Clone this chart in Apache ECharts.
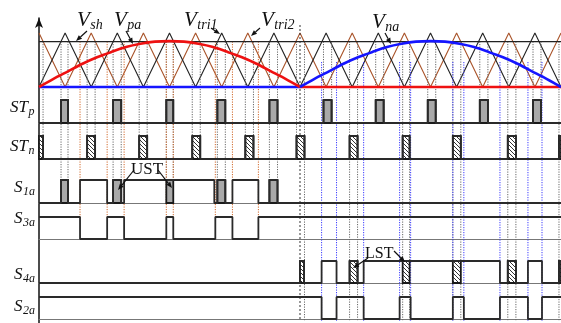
<!DOCTYPE html>
<html><head><meta charset="utf-8">
<script src="https://cdn.jsdelivr.net/npm/echarts@6/dist/echarts.min.js"></script>
<style>html,body{margin:0;padding:0;background:#fff}#c{width:561px;height:323px}</style>
</head><body><div id="c"></div>
<script>
// ---------- DATA (x = angle of the fundamental, degrees) ----------
const triX   = [0,18,36,54,72,90,108,126,144,162,180,198,216,234,252,270,288,306,324,342,360];
const tri1Y  = [0,1,0,1,0,1,0,1,0,1,0,1,0,1,0,1,0,1,0,1,0];   // V_tri1 (black)
const tri2Y  = [1,0,1,0,1,0,1,0,1,0,1,0,1,0,1,0,1,0,1,0,1];   // V_tri2 (brown)
const vshLevel = 0.84;                                          // V_sh
const vpaX = [0,10,20,30,40,50,60,70,80,90,100,110,120,130,140,150,160,170,180];
const vpaY = [0,0.15,0.29,0.43,0.55,0.65,0.74,0.80,0.84,0.85,0.84,0.80,0.74,0.65,0.55,0.43,0.29,0.15,0];
const vnaX = [180,190,200,210,220,230,240,250,260,270,280,290,300,310,320,330,340,350,360];
const vnaY = [0,0.15,0.29,0.43,0.55,0.65,0.74,0.80,0.84,0.85,0.84,0.80,0.74,0.65,0.55,0.43,0.29,0.15,0];
const vpaFlatX = [180,360], vnaFlatX = [0,180];

const stpPulses = [[15.2,20.0],[51.1,56.7],[87.8,92.6],[123.0,128.5],[158.9,164.5],
                   [196.2,201.8],[232.2,237.7],[268.1,273.6],[304.0,309.6],[340.7,346.2]];
const stnPulses = [[0,2.8],[33.2,38.7],[69.1,74.6],[105.7,111.2],[142.3,147.9],[177.6,183.1],
                   [214.2,219.7],[250.8,255.6],[285.4,290.9],[323.3,328.9],[358.6,360]];
const s1aOn = [[28.3,47.0],[58.7,120.9],[133.4,151.3]];
const s1aST = [[15.2,20.0],[51.1,56.7],[87.8,92.6],[123.0,128.5],[158.9,164.5]];
const s3aOn = [[0,28.3],[47.0,58.7],[87.8,92.6],[121.6,133.4],[151.3,360]];
const s4aOn = [[194.9,205.2],[223.9,317.9],[337.2,346.9]];
const s4aST = [[180,182.8],[214.2,219.7],[250.8,255.6],[285.4,290.9],[323.3,328.9],[358.6,360]];
const s2aOn = [[0,194.9],[205.2,223.9],[248.7,256.3],[285.4,293.0],[317.9,337.2],[346.9,360]];
const orangeGuides = [28.3,47.0,58.7,87.8,92.6,121.6,133.4,151.3];
const blueGuides   = [194.9,205.2,223.9,248.7,256.3,285.4,293.0,317.9,337.2,346.9];

// ---------- LAYOUT ----------
const H = 323;
const PL = 39;
const topPanel = {top:33, height:54};
const rowBox = [{top:100,h:23},{top:136,h:23},{top:180,h:23},{top:217,h:22},{top:261,h:22},{top:297,h:22}];
const guidePx = {vsh:41.5, stpBase:123, stnBase:159, s1aBase:203, s3aTop:217, bottom:321, blueTop:62, center:25};
const ov = px => H - px;   // overlay axis value for a pixel row

// ---------- HELPERS ----------
function merge(list){
  const s = list.map(a=>a.slice()).sort((a,b)=>a[0]-b[0]); const out=[];
  s.forEach(iv=>{ if(out.length && iv[0] <= out[out.length-1][1]+1e-9) out[out.length-1][1]=Math.max(out[out.length-1][1],iv[1]); else out.push(iv); });
  return out;
}
function stepData(list){
  const m = merge(list), pts=[];
  if(!m.length || m[0][0] > 0) pts.push([0,0]);
  m.forEach(([a,b])=>{ if(a>0) pts.push([a,0]); pts.push([a,1],[b,1]); if(b<360) pts.push([b,0]); });
  if(!m.length || m[m.length-1][1] < 360) pts.push([360,0]);
  return pts;
}
const zip = (xs,ys)=>xs.map((x,i)=>[x,ys[i]]);

// hatch pattern
const hc = document.createElement('canvas'); hc.width=4; hc.height=4;
(function(){const g=hc.getContext('2d'); g.fillStyle='#fff'; g.fillRect(0,0,4,4); g.strokeStyle='#333'; g.lineWidth=1;
 g.beginPath(); g.moveTo(-1,-1); g.lineTo(5,5); g.moveTo(-1,3); g.lineTo(1,5); g.moveTo(3,-1); g.lineTo(5,1); g.stroke();})();
const hatch = {image: hc, repeat: 'repeat'};

const grids=[], xAxes=[], yAxes=[], series=[];
function addGrid(top,height,baseline){
  grids.push({left:PL,right:0,top,height});
  const i = grids.length-1;
  xAxes.push({type:'value',gridIndex:i,min:0,max:360,show:!!baseline,
    axisLine:{show:!!baseline,onZero:true,lineStyle:{color:'#777',width:1}},axisTick:{show:false},axisLabel:{show:false},splitLine:{show:false}});
  yAxes.push({type:'value',gridIndex:i,min:0,max:1,show:false});
  return i;
}

// top panel
const g0 = addGrid(topPanel.top, topPanel.height, false);
const lineS = (gi,data,color,width,z,smooth)=>({type:'line',xAxisIndex:gi,yAxisIndex:gi,data,symbol:'none',smooth:smooth||false,clip:false,z,
  lineStyle:{color,width},silent:true});
series.push(lineS(g0, zip(triX,tri2Y), '#a9542a', 1.1, 2));
series.push(lineS(g0, zip(triX,tri1Y), '#222', 1.1, 2));
series.push(lineS(g0, [[0,vshLevel],[360,vshLevel]], '#222', 1.4, 3));
series.push(lineS(g0, vnaFlatX.map(x=>[x,0]), '#1515ff', 2.6, 5));
series.push(lineS(g0, vpaFlatX.map(x=>[x,0]), '#ee1111', 2.6, 5));
series.push(lineS(g0, zip(vpaX,vpaY), '#ee1111', 2.6, 6, 0.3));
series.push(lineS(g0, zip(vnaX,vnaY), '#1515ff', 2.6, 6, 0.3));

// rows
function pulses(gi,list,fill){
  return {type:'custom',xAxisIndex:gi,yAxisIndex:gi,data:list,z:4,silent:true,
    renderItem:(p,api)=>{const a=api.coord([api.value(0),1]), b=api.coord([api.value(1),0]);
      return {type:'rect',shape:{x:a[0],y:a[1],width:b[0]-a[0],height:b[1]-a[1]},style:{fill,stroke:'#1a1a1a',lineWidth:1.8}};}};
}
const rowDefs = [
  {on:stpPulses, fill:{list:stpPulses, f:'#a9a9a9'}},
  {on:stnPulses, fill:{list:stnPulses, f:hatch}},
  {on:s1aOn.concat(s1aST), fill:{list:s1aST, f:'#a9a9a9'}},
  {on:s3aOn},
  {on:s4aOn.concat(s4aST), fill:{list:s4aST, f:hatch}},
  {on:s2aOn}
];
rowDefs.forEach((r,k)=>{
  const gi = addGrid(rowBox[k].top, rowBox[k].h, true);
  series.push(lineS(gi, stepData(r.on), '#2a2a2a', 1.8, 5));
  if(r.fill) series.push(pulses(gi, r.fill.list, r.fill.f));
});

// overlay grid: axis + guide lines
grids.push({left:PL,right:0,top:18,bottom:0});
const go = grids.length-1;
xAxes.push({type:'value',gridIndex:go,min:0,max:360,show:false});
yAxes.push({type:'value',gridIndex:go,min:0,max:H-18,show:true,
  axisLine:{show:true,symbol:['none','arrow'],symbolSize:[6,10],lineStyle:{color:'#111',width:1.5}},
  axisTick:{show:false},axisLabel:{show:false},splitLine:{show:false}});

const guides=[];
stpPulses.forEach(([a,b])=>[a,b].forEach(x=>guides.push([x, ov(guidePx.vsh), ov(x<180?guidePx.s1aBase:guidePx.stpBase), 0])));
stnPulses.forEach(([a,b])=>[a,b].forEach(x=>{ if(x>0 && x<360) guides.push([x, ov(guidePx.vsh), ov(x<180?guidePx.stnBase:guidePx.bottom), 0]); }));
orangeGuides.forEach(x=>guides.push([x, ov(guidePx.vsh), ov(guidePx.s3aTop), 1]));
blueGuides.forEach(x=>guides.push([x, ov(guidePx.blueTop), ov(guidePx.bottom), 2]));
guides.push([180, ov(guidePx.center), ov(guidePx.bottom), 3]);
const guideColor = ['#666','#d0682a','#3a3aff','#333'];
series.push({type:'custom',xAxisIndex:go,yAxisIndex:go,data:guides,z:3,silent:true,
  renderItem:(p,api)=>{const x=api.value(0), a=api.coord([x,api.value(1)]), b=api.coord([x,api.value(2)]); const k=api.value(3);
    return {type:'line',shape:{x1:a[0],y1:a[1],x2:b[0],y2:b[1]},style:{stroke:guideColor[k],lineWidth:1,lineDash:k===3?[2,2]:[1.2,1.3]}};}});

// ---------- ANNOTATIONS ----------
const mctx = document.createElement('canvas').getContext('2d');
function label(x, base, main, subTxt, size, subSize, drop, italic){
  const f = s => (italic===false?'':'italic ') + s + 'px "Liberation Serif"';
  mctx.font = f(size); const w = mctx.measureText(main).width;
  const els = [{type:'text',x,y:base-0.34*size,z:100,style:{text:main,font:f(size),fill:'#111',verticalAlign:'middle'}}];
  if(subTxt) els.push({type:'text',x:x+w+0.5,y:base+drop-0.34*subSize,z:100,style:{text:subTxt,font:f(subSize),fill:'#111',verticalAlign:'middle'}});
  return els;
}
function arrow(x1,y1,x2,y2){
  const ang=Math.atan2(y2-y1,x2-x1), L=6, Wd=2.4;
  const bx=x2-L*Math.cos(ang), by=y2-L*Math.sin(ang), px=-Math.sin(ang)*Wd, py=Math.cos(ang)*Wd;
  return [{type:'line',z:100,shape:{x1,y1,x2:bx,y2:by},style:{stroke:'#111',lineWidth:1.2}},
          {type:'polygon',z:100,shape:{points:[[x2,y2],[bx+px,by+py],[bx-px,by-py]]},style:{fill:'#111'}}];
}
const els = [].concat(
  label(77,28,'V','sh',21,14,2),
  label(114,28,'V','pa',21,14,2),
  label(184,28,'V','tri1',21,14,2),
  label(261,28,'V','tri2',21,14,2),
  label(372,30,'V','na',21,14,2),
  label(10,113,'ST','p',17,12,3),
  label(10,152,'ST','n',17,12,3),
  label(14,193,'S','1a',17,12,3),
  label(14,224,'S','3a',17,12,3),
  label(14,280,'S','4a',17,12,3),
  label(14,312,'S','2a',17,12,3),
  label(131,175,'UST',null,17,0,0,false),
  label(365,259,'LST',null,16,0,0,false),
  arrow(87,31,76,41), arrow(126,31,133,44), arrow(211,28,220,34), arrow(260,28,251,36), arrow(385,33,391,44),
  arrow(134,170,118,190), arrow(158,170,172,188), arrow(368,258,353,268), arrow(394,251,405,262)
);

const chart = echarts.init(document.getElementById('c'));
chart.setOption({animation:false, backgroundColor:'#fff', grid:grids, xAxis:xAxes, yAxis:yAxes, series, graphic:{elements:els}});
</script></body></html>
